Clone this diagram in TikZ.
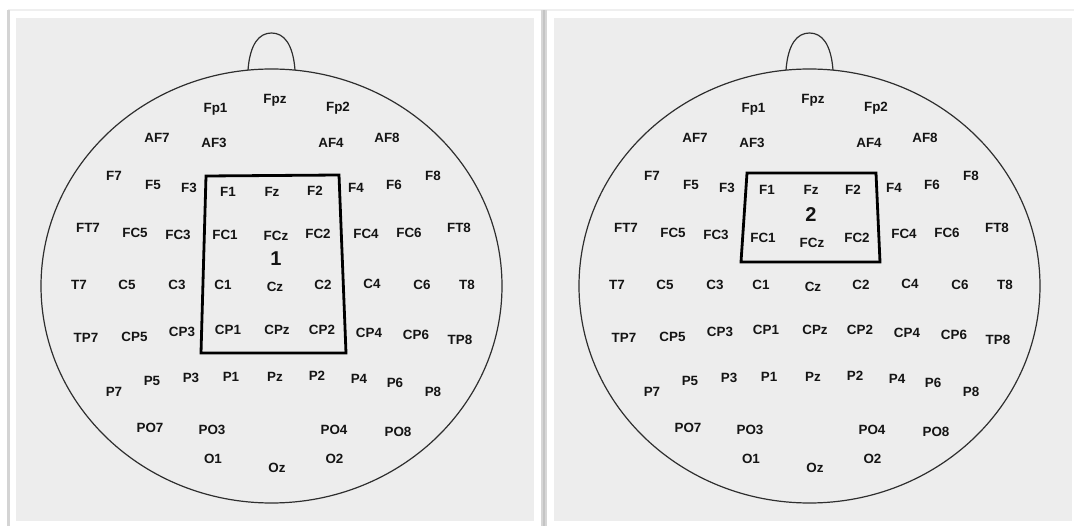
\documentclass[tikz,border=0pt]{standalone}
\usepackage{fontspec}
\setmainfont{Liberation Sans}
\definecolor{panelgray}{HTML}{EDEDED}
\definecolor{framegray}{HTML}{D4D4D4}
\definecolor{toplinegray}{HTML}{EFEFEF}
\definecolor{sepgray}{HTML}{D6D6D6}
\definecolor{sepdark}{HTML}{C4C4C4}

% electrodes that sit at the same place on both heads
\newcommand\commonsites{%
  Fp1/215.5/108, Fpz/275/99, Fp2/338/107,
  AF7/157/138, AF3/214/143, AF4/331/143, AF8/387/138,
  F7/114/176, F5/153/185, F3/189/188, F4/356/188, F6/394/185, F8/433/176,
  FT7/88/228, FC5/135/233, FC3/178/235, FC4/366/234, FC6/409/233, FT8/459/228,
  T7/79/285, C5/127/285, C3/177/285, C1/223/285, Cz/275/287, C2/323/285,
  C4/372/284, C6/422/285, T8/467/285,
  TP7/86/338, CP5/134.5/337, CP3/182/332, CP1/228/330, CPz/277/330,
  CP2/322/330, CP4/369/333, CP6/416/335, TP8/460/340,
  P7/114/392, P5/152/381, P3/191/378, P1/231/377, Pz/275/377, P2/317/376,
  P4/359/379, P6/395/383, P8/433/392,
  PO7/150/428, PO3/212/430, PO4/334/430, PO8/398/432,
  O1/213/459, Oz/277/467, O2/334.5/459}

% head outline with nose
\newcommand\headoutline{%
  \draw[headline] (271.5,286) ellipse [x radius=230.5, y radius=217];
  \draw[headline] (248,70) .. controls (250,44) and (259,33) .. (271.5,33)
                           .. controls (284,33) and (293,44) .. (295,70);
}

\begin{document}
\begin{tikzpicture}[x=1pt, y=-1pt,
  el/.style={font=\bfseries\fontsize{13.4}{14}\selectfont, anchor=base,
             inner sep=0pt, text=black!92},
  regionnum/.style={font=\bfseries\fontsize{20}{22}\selectfont,
             anchor=base, inner sep=0pt, text=black!92},
  headline/.style={draw=black!82, line width=1.2pt},
  regionbox/.style={draw=black, line width=2.8pt, line join=miter},
]
\useasboundingbox (0,0) rectangle (1074,526);
\fill[white] (0,0) rectangle (1074,526);

% frame lines and panels
\fill[toplinegray] (8,9) rectangle (1074,11);
\fill[framegray] (7,10) rectangle (9.5,526);
\fill[panelgray] (16,18) rectangle (534,521);
\fill[panelgray] (554,18) rectangle (1072,521);
\fill[sepgray] (540.5,10) rectangle (547,526);
\fill[sepdark] (542.5,10) rectangle (545,526);

% left head: region 1
\begin{scope}[name prefix=L-]
  \headoutline
  \foreach \n/\x/\y in \commonsites {\node[el] (\n) at (\x,\y+5) {\n};}
  \foreach \n/\x/\y in {F1/228/192, Fz/272/192, F2/315/191,
                        FC1/225/235, FCz/276/236, FC2/318/234}
    {\node[el] (\n) at (\x,\y+5) {\n};}
  \node[regionnum] (region) at (276,266) {1};
  \draw[regionbox] (206,176) -- (339,175) -- (346,353) -- (201,353) -- cycle;
\end{scope}

% right head: region 2
\begin{scope}[name prefix=R-, xshift=538pt]
  \headoutline
  \foreach \n/\x/\y in \commonsites {\node[el] (\n) at (\x,\y+5) {\n};}
  \foreach \n/\x/\y in {F1/229/190, Fz/273/190, F2/315/190,
                        FC1/225/238, FCz/274/243, FC2/319/238}
    {\node[el] (\n) at (\x,\y+5) {\n};}
  \node[regionnum] (region) at (273,222) {2};
  \draw[regionbox] (209,173) -- (338,173) -- (342,262) -- (203,262) -- cycle;
\end{scope}
\end{tikzpicture}
\end{document}
